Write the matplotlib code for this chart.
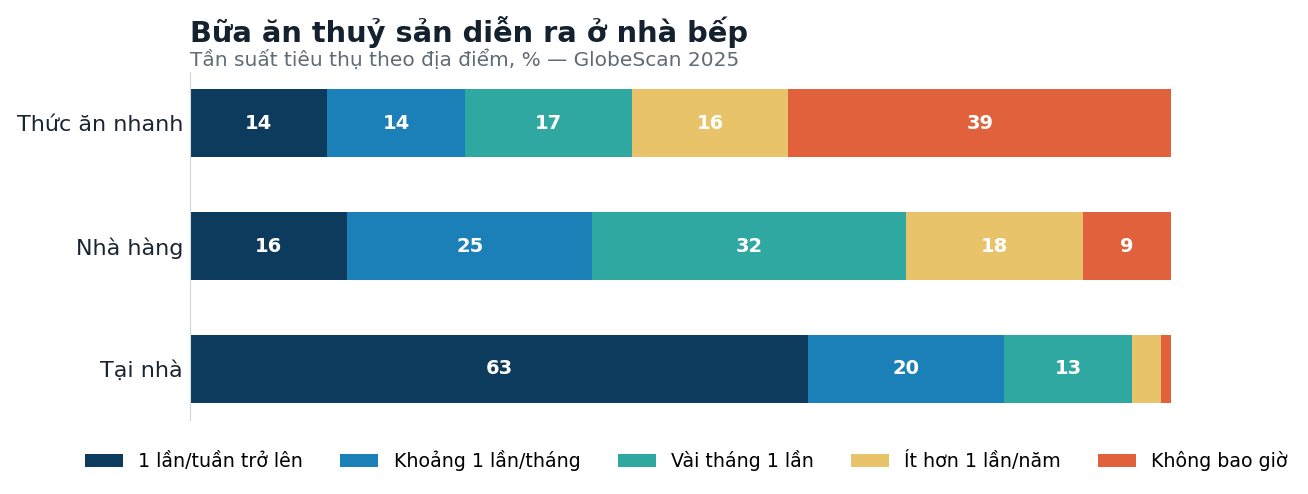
import numpy as np
import matplotlib.pyplot as plt

# dữ liệu
categories = ['Thức ăn nhanh', 'Nhà hàng', 'Tại nhà']
series = ['1 lần/tuần trở lên', 'Khoảng 1 lần/tháng', 'Vài tháng 1 lần',
          'Ít hơn 1 lần/năm', 'Không bao giờ']
values = {
    '1 lần/tuần trở lên': [14, 16, 63],
    'Khoảng 1 lần/tháng': [14, 25, 20],
    'Vài tháng 1 lần': [17, 32, 13],
    'Ít hơn 1 lần/năm': [16, 18, 3],
    'Không bao giờ': [39, 9, 1],
}
colors = ['#0d3b5e', '#1c80b8', '#2ea8a0', '#e8c36a', '#e1613c']

fig = plt.figure(figsize=(13.08, 4.94), dpi=100)
ax = fig.add_axes([0.1453, 0.150, 0.750, 0.704])

y = np.arange(len(categories))[::-1]
left = np.zeros(len(categories))
for s, c in zip(series, colors):
    v = np.array(values[s], dtype=float)
    bars = ax.barh(y, v, left=left, height=0.55, color=c, label=s)
    for b, val in zip(bars, v):
        if val >= 5:
            ax.text(b.get_x() + b.get_width() / 2, b.get_y() + b.get_height() / 2,
                    str(int(val)), ha='center', va='center', color='white',
                    fontsize=14, fontweight='bold')
    left += v

ax.set_xlim(0, 100)
ax.set_ylim(-0.415, 2.415)
ax.set_yticks(y)
ax.set_yticklabels(categories, fontsize=16, color='#1a2533')
ax.set_xticks([])
ax.tick_params(axis='y', length=0, pad=5)
for sp in ['top', 'right', 'bottom']:
    ax.spines[sp].set_visible(False)
ax.spines['left'].set_color('#d0d7dd')

fig.text(0.1453, 0.935, 'Bữa ăn thuỷ sản diễn ra ở nhà bếp', fontsize=20.8,
         fontweight='bold', color='#14212e', va='center')
fig.text(0.1453, 0.879, 'Tần suất tiêu thụ theo địa điểm, % — GlobeScan 2025',
         fontsize=14.5, color='#5f6b75', va='center')

ax.legend(loc='upper center', bbox_to_anchor=(0.506, -0.037), ncol=5,
          frameon=False, fontsize=13.7, handlelength=2.0, handleheight=0.7,
          columnspacing=1.95)

fig.savefig('out.png', dpi=100)
